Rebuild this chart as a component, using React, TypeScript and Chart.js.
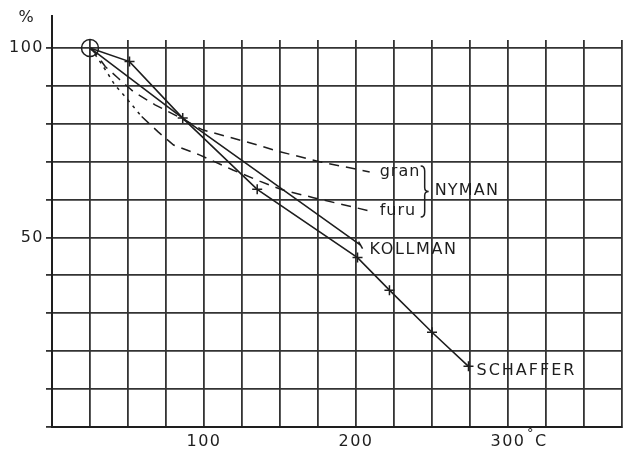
import React, { useEffect, useRef } from 'react';
import { Chart, registerables } from 'chart.js';

Chart.register(...registerables);

// Temperature (°C) and remaining strength (%)
const kollmanX = [25, 86, 203];
const kollmanY = [100, 81.5, 48];

const schafferX = [25, 51, 86, 135, 201, 222, 250, 274];
const schafferY = [100, 96.4, 81.5, 62.7, 44.7, 36.1, 25, 16];

const granX = [25, 29.4, 35, 43.6, 53.5, 67.8, 81, 99, 130, 150, 176, 209];
const granY = [100, 98.2, 95.1, 92, 88.5, 85, 82.3, 78.4, 75, 72.6, 70, 67.3];

const furuX = [25, 29.4, 36, 41.4, 48, 59, 70, 80, 97, 119, 137, 152, 172, 209];
const furuY = [100, 97.7, 93.7, 90.2, 87.2, 81.9, 77.8, 74.4, 71.8, 67.8, 64.8, 62.5, 60.5, 57];

const originX = [25];
const originY = [100];

const xTickLabels = [100, 200, 300];
const yTickLabels = [50, 100];

const xMin = 0;
const xMax = 375;
const xStep = 25;
const yMin = 0;
const yMax = 102.1;
const yStep = 10;

const INK = '#1e1e1e';
const GRID = '#333333';
const FONT = '"DejaVu Sans", sans-serif';

const toPts = (xs: number[], ys: number[]) => xs.map((v, i) => ({ x: v, y: ys[i] }));

const annotPlugin = {
  id: 'annot',
  beforeDraw(chart: any) {
    chart.ctx.letterSpacing = '1.5px';
  },
  afterDatasetsDraw(chart: any) {
    const { ctx, scales, chartArea } = chart;
    const x = scales.x;
    const y = scales.y;
    const endOf = (xs: number[], ys: number[]) => ({
      px: x.getPixelForValue(xs[xs.length - 1]),
      py: y.getPixelForValue(ys[ys.length - 1]),
    });
    ctx.save();
    ctx.fillStyle = INK;
    ctx.strokeStyle = INK;
    ctx.font = `16px ${FONT}`;
    ctx.textBaseline = 'middle';
    ctx.textAlign = 'left';

    // y axis extension above the grid
    ctx.lineWidth = 2;
    ctx.beginPath();
    ctx.moveTo(chartArea.left, chartArea.top);
    ctx.lineTo(chartArea.left, chartArea.top - 25);
    ctx.stroke();

    // % unit
    ctx.letterSpacing = '0px';
    ctx.textAlign = 'center';
    ctx.fillText('%', chartArea.left - 26, chartArea.top - 22);

    // °C unit next to 300
    ctx.textAlign = 'left';
    const p300 = x.getPixelForValue(300);
    ctx.font = `13px ${FONT}`;
    ctx.fillText('°', p300 + 19, chartArea.bottom + 7);
    ctx.font = `16px ${FONT}`;
    ctx.fillText('C', p300 + 27, chartArea.bottom + 15);

    // series labels
    ctx.letterSpacing = '1px';
    const g = endOf(granX, granY);
    ctx.fillText('gran', g.px + 10, g.py);
    const f = endOf(furuX, furuY);
    ctx.fillText('furu', f.px + 10, f.py);

    // brace
    const bx = g.px + 55;
    const top = g.py - 6;
    const bot = f.py + 6;
    const mid = (top + bot) / 2;
    ctx.lineWidth = 1.5;
    ctx.beginPath();
    ctx.moveTo(bx - 4, top);
    ctx.quadraticCurveTo(bx, top, bx, top + 5);
    ctx.lineTo(bx, mid - 4);
    ctx.quadraticCurveTo(bx, mid, bx + 4, mid);
    ctx.quadraticCurveTo(bx, mid, bx, mid + 4);
    ctx.lineTo(bx, bot - 5);
    ctx.quadraticCurveTo(bx, bot, bx - 4, bot);
    ctx.stroke();

    ctx.letterSpacing = '1.2px';
    ctx.fillText('NYMAN', bx + 10, mid - 1);

    ctx.letterSpacing = '1.6px';
    const k = endOf(kollmanX, kollmanY);
    ctx.fillText('KOLLMAN', k.px + 9, k.py + 5);
    ctx.letterSpacing = '2px';
    const s = endOf(schafferX, schafferY);
    ctx.fillText('SCHAFFER', s.px + 8, s.py + 4);

    ctx.restore();
  },
};

export default function App() {
  const ref = useRef<HTMLCanvasElement | null>(null);

  useEffect(() => {
    if (!ref.current) return;
    Chart.defaults.font.family = FONT;
    const chart = new Chart(ref.current, {
      type: 'line',
      data: {
        datasets: [
          {
            label: 'KOLLMAN',
            data: toPts(kollmanX, kollmanY),
            borderColor: INK,
            borderWidth: 1.6,
            pointStyle: 'line',
            pointRotation: 60,
            pointRadius: kollmanX.map((_, i) => (i === kollmanX.length - 1 ? 4 : 0)),
            pointBorderColor: INK,
            pointBorderWidth: 1.5,
            fill: false,
          },
          {
            label: 'SCHAFFER',
            data: toPts(schafferX, schafferY),
            borderColor: INK,
            borderWidth: 1.6,
            pointStyle: 'cross',
            pointRadius: schafferX.map((_, i) => (i === 0 ? 0 : 5)),
            pointBorderColor: INK,
            pointBorderWidth: 1.5,
            fill: false,
          },
          {
            label: 'gran',
            data: toPts(granX, granY),
            borderColor: INK,
            borderWidth: 1.5,
            borderDash: [10, 7],
            pointRadius: 0,
            fill: false,
          },
          {
            label: 'furu',
            data: toPts(furuX, furuY),
            borderColor: INK,
            borderWidth: 1.5,
            pointRadius: 0,
            fill: false,
            segment: {
              borderDash: (c: any) => (c.p1DataIndex <= 5 ? [3, 5] : [10, 7]),
            },
          },
          {
            label: 'origin',
            data: toPts(originX, originY),
            showLine: false,
            pointStyle: 'circle',
            pointRadius: 8.5,
            pointBorderColor: INK,
            pointBorderWidth: 1.5,
            pointBackgroundColor: 'rgba(0,0,0,0)',
            clip: false as any,
          },
        ],
      },
      options: {
        responsive: false,
        animation: false,
        events: [],
        layout: { autoPadding: false, padding: { left: 0, top: 40, right: 4, bottom: 0 } },
        plugins: {
          legend: { display: false },
          tooltip: { enabled: false },
        },
        scales: {
          x: {
            type: 'linear',
            min: xMin,
            max: xMax,
            afterFit: (s: any) => {
              s.height = 23;
              s.paddingRight = 0;
              s.paddingLeft = 0;
            },
            ticks: {
              stepSize: xStep,
              autoSkip: false,
              maxRotation: 0,
              includeBounds: false,
              padding: 5,
              color: INK,
              font: { size: 16, family: FONT },
              callback: (v: any) => (xTickLabels.includes(Number(v)) ? String(v) : ''),
            },
            grid: { color: GRID, lineWidth: 1.8, drawTicks: false, tickLength: 0 },
            border: { display: true, color: INK, width: 2 },
          },
          y: {
            type: 'linear',
            min: yMin,
            max: yMax,
            afterFit: (s: any) => {
              s.width = 52;
            },
            ticks: {
              stepSize: yStep,
              includeBounds: false,
              padding: 2,
              color: INK,
              font: { size: 16, family: FONT },
              callback: (v: any) => (yTickLabels.includes(Number(v)) ? String(v) : ''),
            },
            grid: { color: GRID, lineWidth: 1.8, tickLength: 6 },
            border: { display: true, color: INK, width: 2 },
          },
        },
      },
      plugins: [annotPlugin],
    } as any);
    return () => chart.destroy();
  }, []);

  return (
    <div style={{ position: 'fixed', left: 0, top: 0, width: 626, height: 450, background: '#fff' }}>
      <canvas ref={ref} width={626} height={450} style={{ width: 626, height: 450, display: 'block' }} />
    </div>
  );
}
